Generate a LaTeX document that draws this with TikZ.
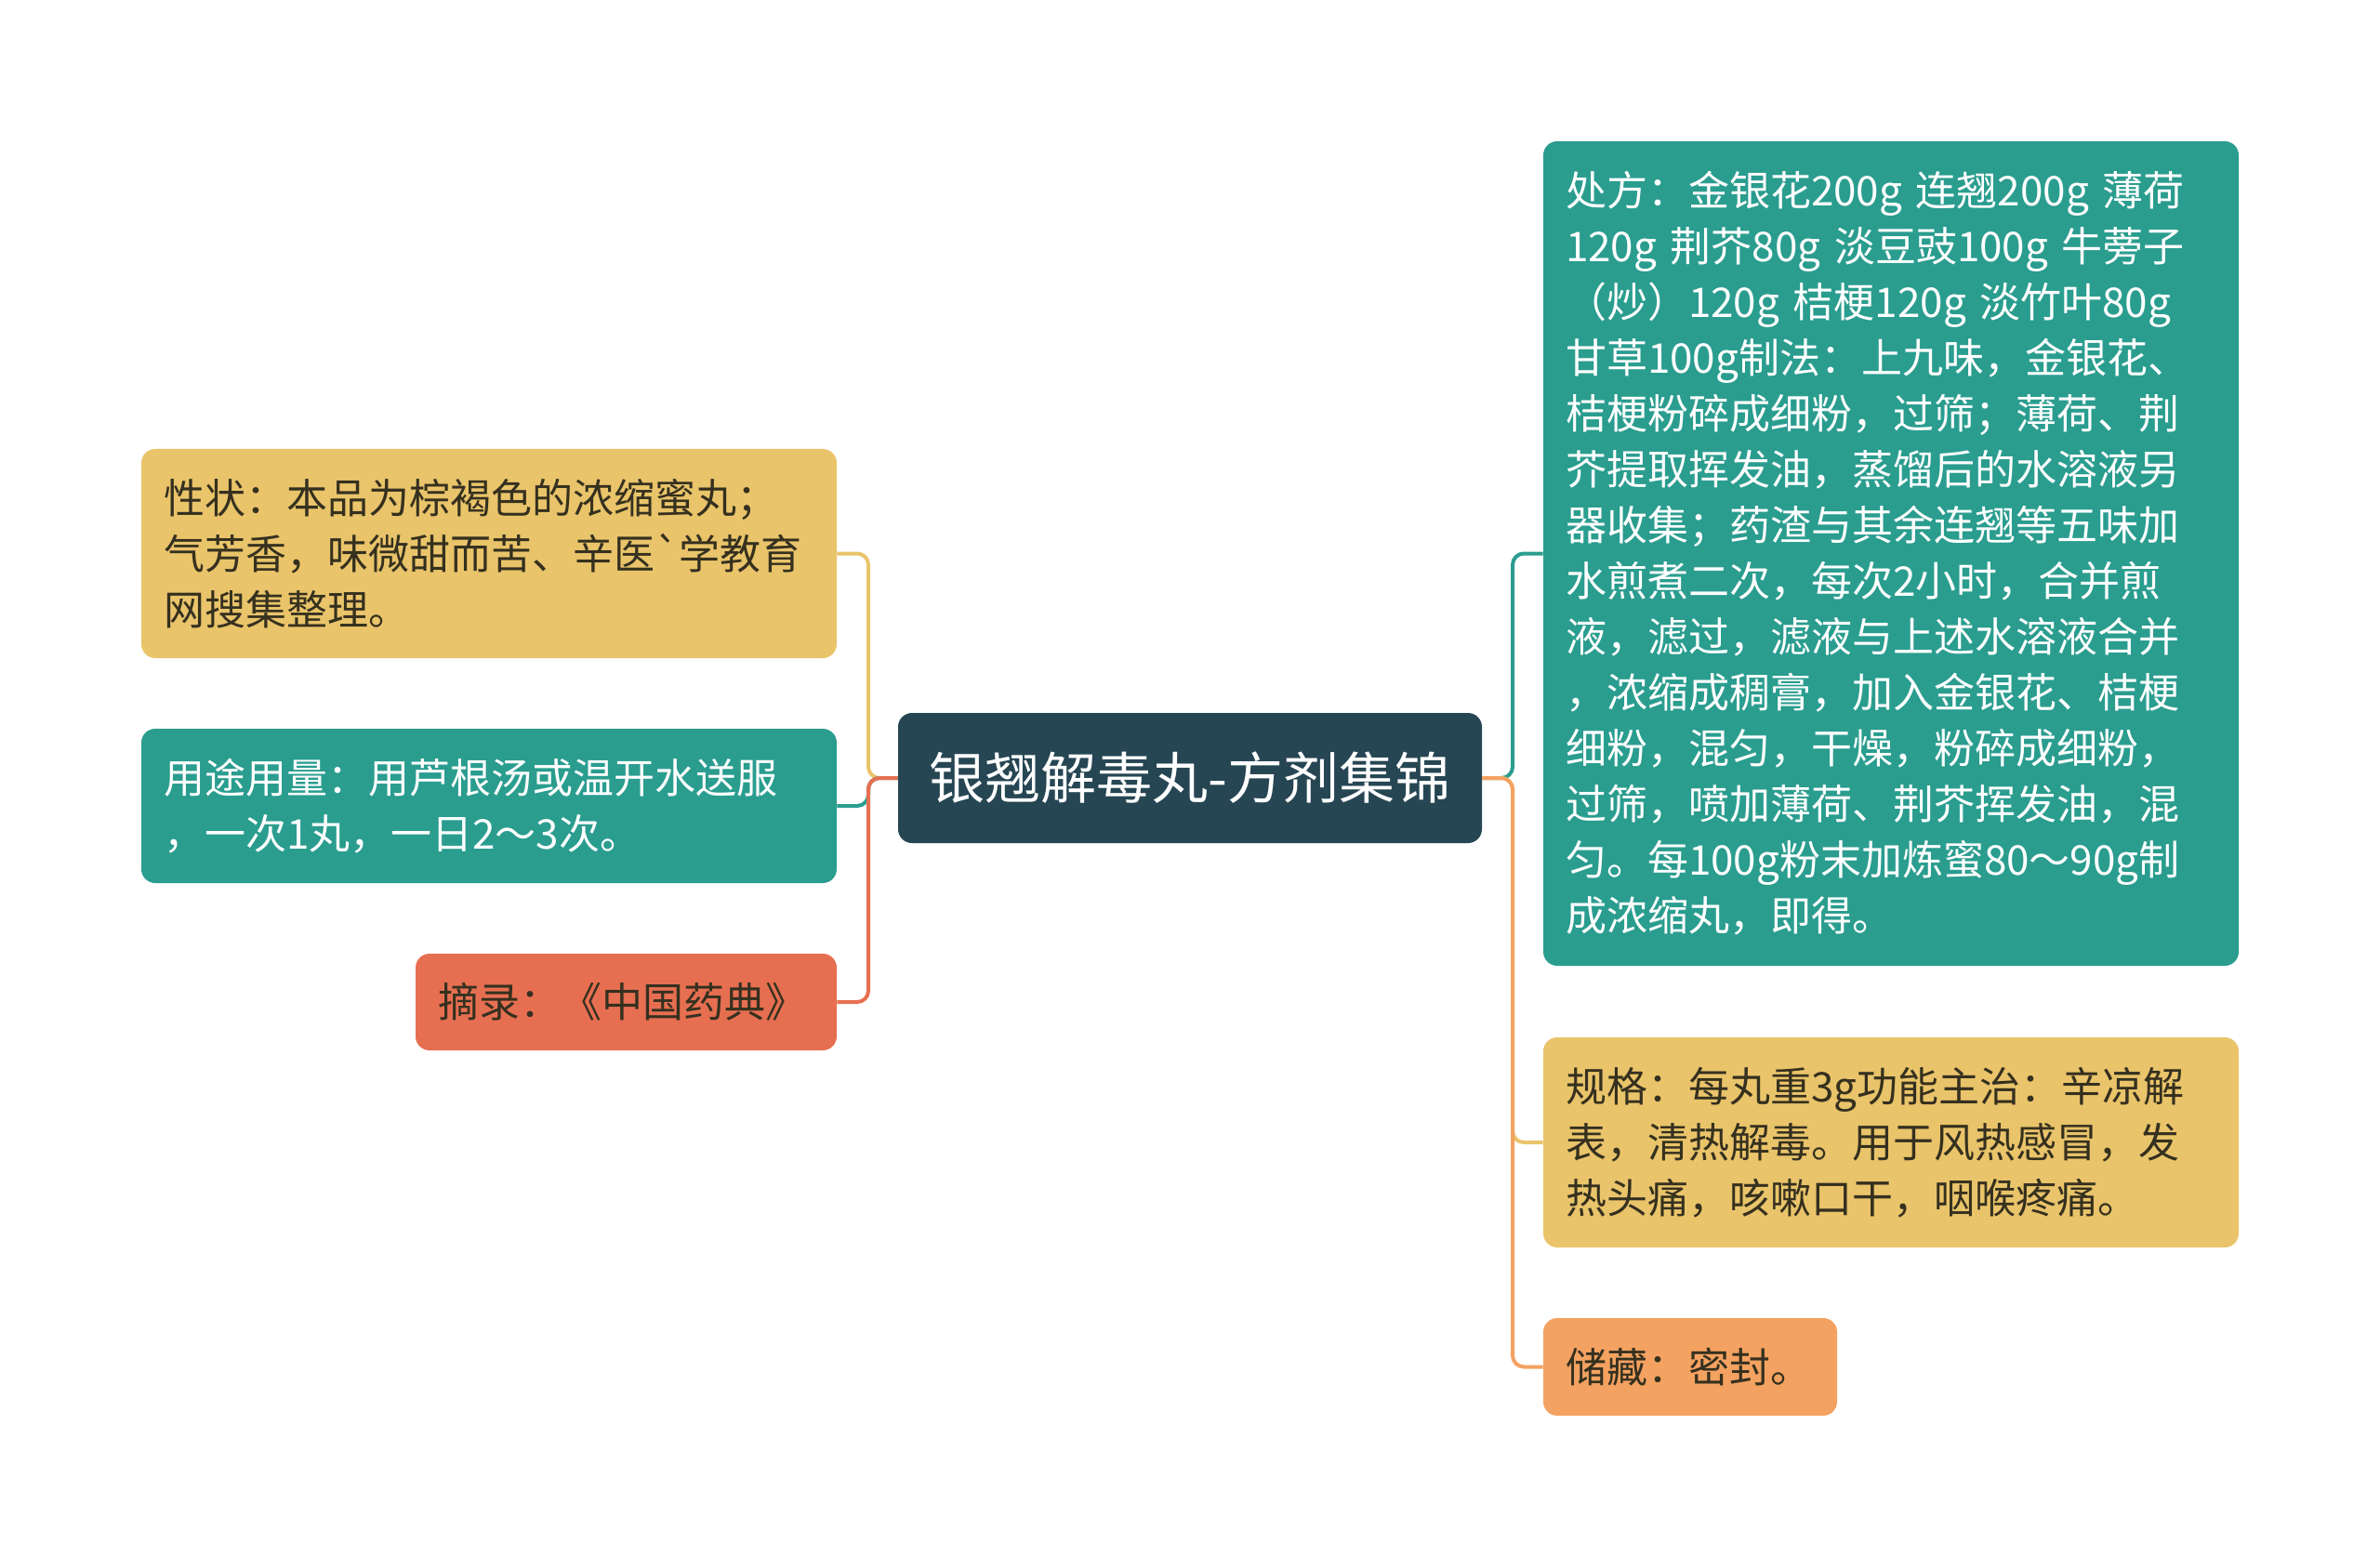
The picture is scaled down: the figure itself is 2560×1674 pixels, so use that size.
\documentclass[tikz,border=0pt]{standalone}
\usepackage{fontspec}
\setmainfont{Noto Sans CJK SC}
\definecolor{rootblue}{HTML}{264653}
\definecolor{mapteal}{HTML}{2A9D8F}
\definecolor{mapyellow}{HTML}{E9C46A}
\definecolor{mapred}{HTML}{E76F51}
\definecolor{maporange}{HTML}{F4A261}
\definecolor{darktext}{HTML}{35301F}
\tikzset{
	topic/.style={rounded corners=7.5pt, inner xsep=12pt, inner ysep=0pt, align=left,
		font=\fontsize{22}{30}\selectfont, text width=#1},
	branch/.style={line width=2pt, rounded corners=6pt}
}
\begin{document}
\begin{tikzpicture}[x=0.5pt,y=-0.5pt]
	\useasboundingbox (0,0) rectangle (2560,1674);
	% centre
	\node[fill=rootblue, text=white, rounded corners=7.5pt, minimum width=314pt, minimum height=70pt,
		inner sep=0pt, font=\fontsize{30}{36}\selectfont] (root) at (1280,837) {银翘解毒丸-方剂集锦};
	% left side
	\node[topic=350pt, fill=mapyellow, text=darktext, minimum height=112.5pt] (shape) at (526,595.5)
		{性状：本品为棕褐色的浓缩蜜丸；\\气芳香，味微甜而苦、辛医\textasciigrave 学教育\\网搜集整理。};
	\node[topic=350pt, fill=mapteal, text=white, minimum height=83pt] (usage) at (526,867)
		{用途用量：用芦根汤或温开水送服\\，一次1丸，一日2～3次。};
	\node[topic=202.5pt, fill=mapred, text=darktext, minimum height=52pt] (source) at (673.5,1078)
		{摘录：《中国药典》};
	% right side
	\node[topic=350pt, fill=mapteal, text=white, minimum height=443.5pt] (recipe) at (2034,595.5)
		{处方：金银花200g 连翘200g 薄荷\\120g 荆芥80g 淡豆豉100g 牛蒡子\\（炒）120g 桔梗120g 淡竹叶80g\\甘草100g制法：上九味，金银花、\\桔梗粉碎成细粉，过筛；薄荷、荆\\芥提取挥发油，蒸馏后的水溶液另\\器收集；药渣与其余连翘等五味加\\水煎煮二次，每次2小时，合并煎\\液，滤过，滤液与上述水溶液合并\\，浓缩成稠膏，加入金银花、桔梗\\细粉，混匀，干燥，粉碎成细粉，\\过筛，喷加薄荷、荆芥挥发油，混\\匀。每100g粉末加炼蜜80～90g制\\成浓缩丸，即得。};
	\node[topic=350pt, fill=mapyellow, text=darktext, minimum height=113pt] (spec) at (2034,1229)
		{规格：每丸重3g功能主治：辛凉解\\表，清热解毒。用于风热感冒，发\\热头痛，咳嗽口干，咽喉疼痛。};
	\node[topic=134pt, fill=maporange, text=darktext, minimum height=52.5pt] (store) at (1818,1470.5)
		{储藏：密封。};
	% connectors
	\coordinate (lhub) at (934,837);
	\coordinate (rhub) at (1627,837);
	\draw[branch, mapyellow] (root.west) -- (lhub) |- (shape.east);
	\draw[branch, mapteal] (root.west) -- (lhub) |- (usage.east);
	\draw[branch, mapred] (root.west) -- (lhub) |- (source.east);
	\draw[branch, mapteal] (root.east) -- (rhub) |- (recipe.west);
	\draw[branch, mapyellow] (root.east) -- (rhub) |- (spec.west);
	\draw[branch, maporange] (root.east) -- (rhub) |- (store.west);
\end{tikzpicture}
\end{document}
